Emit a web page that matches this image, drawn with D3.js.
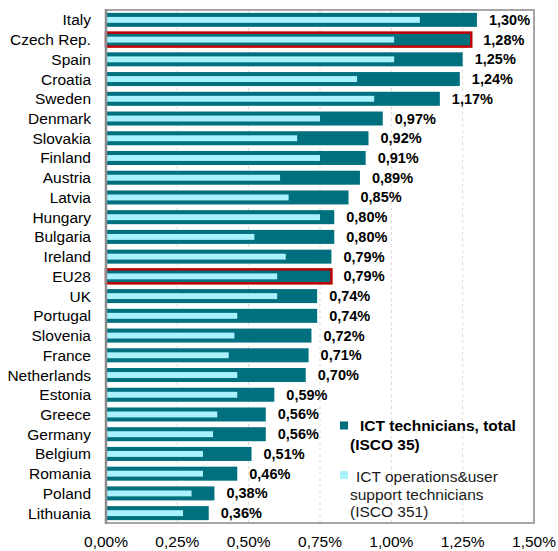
<!DOCTYPE html>
<html>
<head>
<meta charset="utf-8">
<script src="https://cdn.jsdelivr.net/npm/d3@7"></script>
<style>
  body { margin: 0; background: #fff; }
  svg { display: block; font-family: "Liberation Sans", Arial, sans-serif; }
</style>
</head>
<body>
<div id="chart"></div>
<script>
// Chart data (share of employment, %)
const countries = ['Italy', 'Czech Rep.', 'Spain', 'Croatia', 'Sweden', 'Denmark', 'Slovakia',
    'Finland', 'Austria', 'Latvia', 'Hungary', 'Bulgaria', 'Ireland', 'EU28', 'UK', 'Portugal',
    'Slovenia', 'France', 'Netherlands', 'Estonia', 'Greece', 'Germany', 'Belgium', 'Romania',
    'Poland', 'Lithuania'];
const totalValues = [1.30, 1.28, 1.25, 1.24, 1.17, 0.97, 0.92, 0.91, 0.89, 0.85, 0.80, 0.80,
    0.79, 0.79, 0.74, 0.74, 0.72, 0.71, 0.70, 0.59, 0.56, 0.56, 0.51, 0.46, 0.38, 0.36];
const opsValues = [1.10, 1.01, 1.01, 0.88, 0.94, 0.75, 0.67, 0.75, 0.61, 0.64, 0.75, 0.52,
    0.63, 0.60, 0.60, 0.46, 0.45, 0.43, 0.46, 0.46, 0.39, 0.375, 0.34, 0.34, 0.30, 0.27];
const highlighted = ['Czech Rep.', 'EU28'];
const xTicks = [0, 0.25, 0.5, 0.75, 1.0, 1.25, 1.5];
const legendTotal = ['ICT technicians, total', '(ISCO 35)'];
const legendOps = ['ICT operations&user', 'support technicians', '(ISCO 351)'];

const data = countries.map((c, i) => ({ country: c, total: totalValues[i], ops: opsValues[i] }));

const W = 558, H = 551;
const plot = { left: 106, right: 534, top: 10, bottom: 523 };
const darkColor = '#00707f';
const lightColor = '#a8f1fd';

const fmt = v => d3.format('.2f')(v).replace('.', ',') + '%';

const svg = d3.select('#chart').append('svg')
    .attr('width', W)
    .attr('height', H);

const x = d3.scaleLinear().domain([0, 1.5]).range([plot.left, plot.right]);
const y = d3.scaleBand().domain(countries).range([plot.top, plot.bottom]);
const bw = y.bandwidth();
const darkH = bw * 0.71;
const lightH = bw * 0.3;

// dashed gridlines
svg.append('g')
    .selectAll('line')
    .data(xTicks.slice(1, -1))
    .enter().append('line')
    .attr('x1', d => x(d)).attr('x2', d => x(d))
    .attr('y1', plot.top).attr('y2', plot.bottom)
    .attr('stroke', '#d9d9d9')
    .attr('stroke-width', 1)
    .attr('stroke-dasharray', '3,3');

// total bars
svg.append('g')
    .selectAll('rect')
    .data(data)
    .enter().append('rect')
    .attr('x', x(0))
    .attr('y', d => y(d.country) + (bw - darkH) / 2)
    .attr('width', d => x(d.total) - x(0))
    .attr('height', darkH)
    .attr('fill', darkColor)
    .attr('stroke', d => highlighted.includes(d.country) ? '#c00000' : 'none')
    .attr('stroke-width', 2.5);

// ISCO 351 bars
svg.append('g')
    .selectAll('rect')
    .data(data)
    .enter().append('rect')
    .attr('x', x(0) + 1)
    .attr('y', d => y(d.country) + (bw - lightH) / 2)
    .attr('width', d => x(d.ops) - x(0) - 1)
    .attr('height', lightH)
    .attr('fill', lightColor);

// value labels
svg.append('g')
    .selectAll('text')
    .data(data)
    .enter().append('text')
    .attr('x', d => x(d.total) + 12)
    .attr('y', d => y(d.country) + bw / 2 + 5)
    .style('font-size', '14.5px')
    .style('font-weight', 'bold')
    .attr('fill', '#000')
    .text(d => fmt(d.total));

// category labels
svg.append('g')
    .selectAll('text')
    .data(countries)
    .enter().append('text')
    .attr('x', 91)
    .attr('y', d => y(d) + bw / 2 + 5.5)
    .attr('text-anchor', 'end')
    .style('font-size', '15.5px')
    .attr('fill', '#000')
    .text(d => d);

// plot border
svg.append('rect')
    .attr('x', plot.left).attr('y', plot.top)
    .attr('width', plot.right - plot.left)
    .attr('height', plot.bottom - plot.top)
    .attr('fill', 'none')
    .attr('stroke', '#a6a6a6')
    .attr('stroke-width', 2);

svg.append('line')
    .attr('x1', plot.left).attr('x2', plot.left)
    .attr('y1', plot.top - 1).attr('y2', plot.bottom + 1)
    .attr('stroke', '#8c8c8c')
    .attr('stroke-width', 2.5);

// x axis tick labels
svg.append('g')
    .selectAll('text')
    .data(xTicks)
    .enter().append('text')
    .attr('x', d => x(d))
    .attr('y', 547)
    .attr('text-anchor', 'middle')
    .style('font-size', '15.5px')
    .attr('fill', '#000')
    .text(d => fmt(d));

// legend
const legend = svg.append('g');

legend.append('rect')
    .attr('x', 340).attr('y', 421.5)
    .attr('width', 8).attr('height', 8)
    .attr('fill', darkColor);

legend.append('text')
    .attr('x', 360).attr('y', 431)
    .style('font-size', '15.5px')
    .style('font-weight', 'bold')
    .text(legendTotal[0]);

legend.append('text')
    .attr('x', 350).attr('y', 450)
    .style('font-size', '15.5px')
    .style('font-weight', 'bold')
    .text(legendTotal[1]);

legend.append('rect')
    .attr('x', 340).attr('y', 471)
    .attr('width', 8).attr('height', 8)
    .attr('fill', lightColor);

legendOps.forEach((t, i) => {
    legend.append('text')
        .attr('x', i === 0 ? 356 : 350)
        .attr('y', 482 + i * 17.5)
        .style('font-size', '15.5px')
        .attr('fill', '#1a1a1a')
        .text(t);
});
</script>
</body>
</html>
